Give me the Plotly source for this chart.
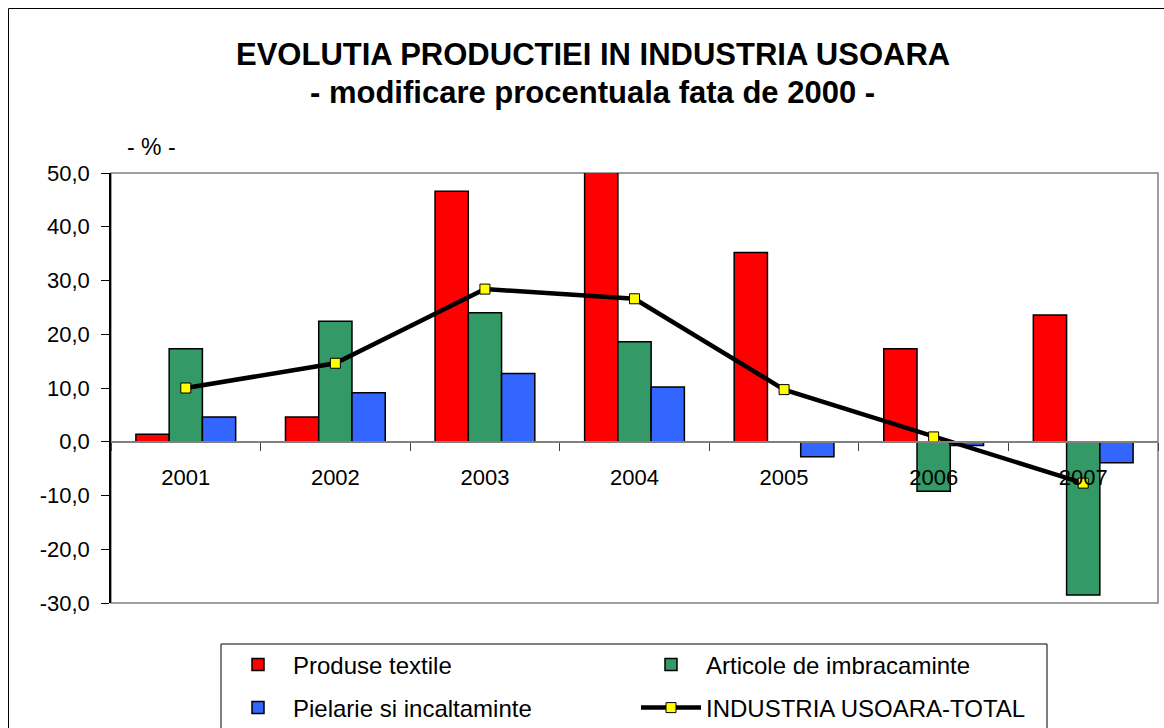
import plotly.graph_objects as go

years = ["2001", "2002", "2003", "2004", "2005", "2006", "2007"]
textile = [1.4, 4.6, 46.6, 50.7, 35.2, 17.3, 23.6]
imbracaminte = [17.3, 22.4, 24.0, 18.6, None, -9.2, -28.5]
pielarie = [4.6, 9.1, 12.7, 10.2, -2.8, -0.7, -3.9]
total = [10.0, 14.6, 28.4, 26.6, 9.7, 0.9, -7.7]
y_tick_vals = [-30, -20, -10, 0, 10, 20, 30, 40, 50]
y_tick_labels = ["-30,0", "-20,0", "-10,0", "0,0", "10,0", "20,0", "30,0", "40,0", "50,0"]

FONT = "Liberation Sans, Arial, sans-serif"
W, H = 1164, 728
L, R, T, B = 111, 6, 173, 125
PW, PH = W - L - R, H - T - B


def px_x(x):
    return (x - L) / PW


def px_y(y):
    return (H - B - y) / PH


fig = go.Figure()
bar_line = dict(color="black", width=1.5)
fig.add_trace(go.Bar(x=years, y=textile, name="Produse textile", legend="legend",
                     marker=dict(color="#FF0000", line=bar_line)))
fig.add_trace(go.Bar(x=years, y=imbracaminte, name="Articole de imbracaminte",
                     legend="legend",
                     marker=dict(color="#339966", line=bar_line)))
fig.add_trace(go.Bar(x=years, y=pielarie, name="Pielarie si incaltaminte",
                     legend="legend2",
                     marker=dict(color="#3366FF", line=bar_line)))
fig.add_trace(go.Scatter(x=years, y=total, name="INDUSTRIA USOARA-TOTAL",
                         legend="legend2",
                         mode="lines+markers",
                         line=dict(color="black", width=4.5),
                         marker=dict(symbol="square", size=10, color="#FFFF00",
                                     line=dict(color="black", width=1))))

leg_common = dict(orientation="h", xanchor="left", yanchor="middle",
                  borderwidth=0, bgcolor="rgba(0,0,0,0)",
                  entrywidth=338, entrywidthmode="pixels",
                  itemwidth=60, traceorder="normal",
                  font=dict(family=FONT, size=24, color="black"))

fig.update_layout(
    width=W, height=H,
    margin=dict(l=L, r=R, t=T, b=B, autoexpand=False),
    paper_bgcolor="white", plot_bgcolor="white",
    barmode="group", bargap=0.333, bargroupgap=0,
    font=dict(family=FONT, size=22, color="black"),
    showlegend=True,
    legend=dict(x=px_x(223), y=px_y(665), **leg_common),
    legend2=dict(x=px_x(223), y=px_y(708), **leg_common),
    xaxis=dict(type="category", anchor="free", position=30 / 80,
               showline=True, linecolor="#808080", linewidth=1.5,
               ticks="outside", ticklen=8, tickcolor="#404040", tickwidth=1,
               tickson="boundaries", ticklabelstandoff=16,
               showgrid=False, zeroline=False,
               tickfont=dict(family=FONT, size=22)),
    yaxis=dict(range=[-30, 50], tickvals=y_tick_vals, ticktext=y_tick_labels,
               showline=True, linecolor="black", linewidth=1.5,
               ticks="outside", ticklen=8, tickcolor="black",
               ticklabelstandoff=7,
               showgrid=False, zeroline=True, zerolinecolor="#808080",
               zerolinewidth=1.5,
               tickfont=dict(family=FONT, size=22)),
)

# plot-area border (gray)
fig.add_shape(type="rect", xref="paper", yref="paper", x0=0, x1=1, y0=0, y1=1,
              line=dict(color="#808080", width=1.5), layer="below")
# outer chart border (extends beyond the page at right and bottom)
fig.add_shape(type="rect", xref="paper", yref="paper",
              x0=px_x(8.5), x1=px_x(W + 20), y0=px_y(H + 20), y1=px_y(8.5),
              line=dict(color="black", width=1))
# legend box
fig.add_shape(type="rect", xref="paper", yref="paper",
              x0=px_x(221), x1=px_x(1047), y0=px_y(H + 20), y1=px_y(644),
              line=dict(color="black", width=1))

ann_common = dict(xref="paper", yref="paper", showarrow=False,
                  xanchor="center", yanchor="middle")
fig.add_annotation(text="<b>EVOLUTIA PRODUCTIEI IN INDUSTRIA USOARA</b>",
                   x=px_x(593), y=px_y(54),
                   font=dict(family=FONT, size=31, color="black"), **ann_common)
fig.add_annotation(text="<b>- modificare procentuala fata de 2000 -</b>",
                   x=px_x(592), y=px_y(92),
                   font=dict(family=FONT, size=31, color="black"), **ann_common)
fig.add_annotation(text="- % -", x=px_x(151), y=px_y(147),
                   font=dict(family=FONT, size=23, color="black"), **ann_common)

fig.write_html("out.html", config={"displayModeBar": False},
               post_script="document.body.style.margin='0px';")
